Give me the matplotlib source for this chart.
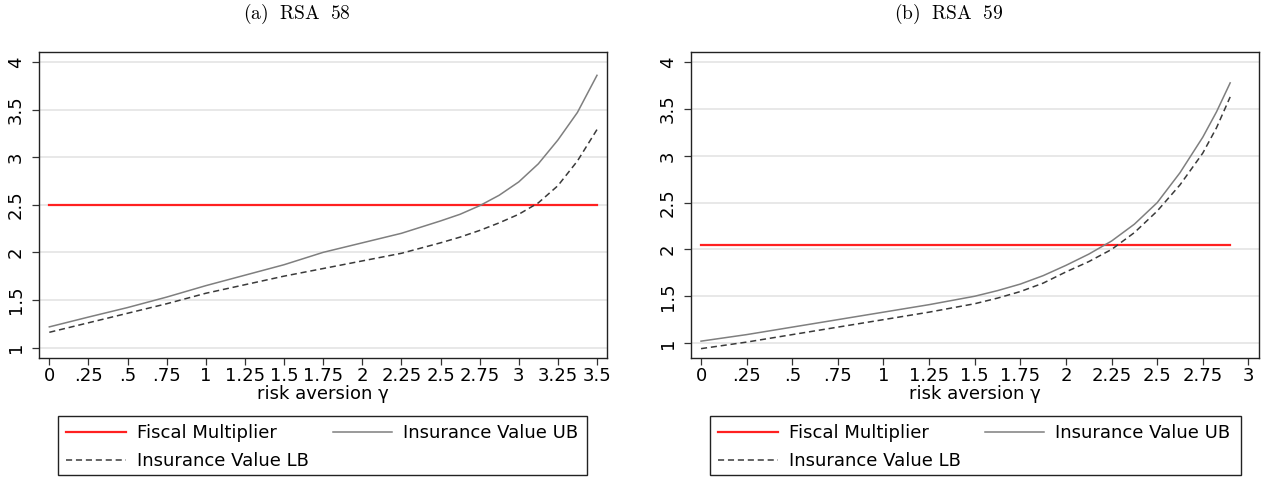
import numpy as np
import matplotlib.pyplot as plt
from matplotlib.patches import Rectangle

plt.rcParams['font.family'] = 'DejaVu Sans'
plt.rcParams['mathtext.fontset'] = 'cm'

# panel (a) RSA 58
gamma_a = [0, 0.25, 0.5, 0.75, 1.0, 1.25, 1.5, 1.75, 2.0, 2.25, 2.5, 2.625, 2.75,
           2.875, 3.0, 3.125, 3.25, 3.375, 3.5]
ub_a = [1.217, 1.32, 1.42, 1.53, 1.65, 1.76, 1.87, 2.0, 2.10, 2.20, 2.33, 2.40, 2.49,
        2.60, 2.74, 2.93, 3.18, 3.47, 3.86]
lb_a = [1.16, 1.26, 1.36, 1.46, 1.57, 1.66, 1.75, 1.83, 1.91, 1.99, 2.10, 2.16, 2.23,
        2.31, 2.40, 2.52, 2.70, 2.96, 3.29]
fm_a = 2.5
xticks_a = [0, .25, .5, .75, 1, 1.25, 1.5, 1.75, 2, 2.25, 2.5, 2.75, 3, 3.25, 3.5]
xlabels_a = ['0', '.25', '.5', '.75', '1', '1.25', '1.5', '1.75', '2', '2.25',
             '2.5', '2.75', '3', '3.25', '3.5']

# panel (b) RSA 59
gamma_b = [0, 0.25, 0.5, 0.75, 1.0, 1.25, 1.5, 1.625, 1.75, 1.875, 2.0, 2.125, 2.25,
           2.375, 2.5, 2.625, 2.75, 2.825, 2.9]
ub_b = [1.02, 1.09, 1.17, 1.25, 1.33, 1.41, 1.50, 1.56, 1.63, 1.72, 1.83, 1.95, 2.09,
        2.27, 2.50, 2.82, 3.20, 3.47, 3.78]
lb_b = [0.94, 1.01, 1.09, 1.17, 1.25, 1.33, 1.42, 1.48, 1.55, 1.64, 1.76, 1.87, 2.00,
        2.18, 2.41, 2.69, 3.03, 3.30, 3.63]
fm_b = 2.05
xticks_b = [0, .25, .5, .75, 1, 1.25, 1.5, 1.75, 2, 2.25, 2.5, 2.75, 3]
xlabels_b = ['0', '.25', '.5', '.75', '1', '1.25', '1.5', '1.75', '2', '2.25',
             '2.5', '2.75', '3']

yticks = [1, 1.5, 2, 2.5, 3, 3.5, 4]
ylabels = ['1', '1.5', '2', '2.5', '3', '3.5', '4']

fig = plt.figure(figsize=(12.68, 4.78), dpi=100)
W, H = 1268, 478

panels = [
    dict(x=gamma_a, ub=ub_a, lb=lb_a, fm=fm_a, xt=xticks_a, xl=xlabels_a,
         box=(39, 52, 607, 358), xlim=(-0.066, 3.564), ylim=(0.89, 4.105),
         title=r'$\mathrm{(a)\ \ RSA\ \ 58}$', tx=297, leg=(58, 416, 587, 475)),
    dict(x=gamma_b, ub=ub_b, lb=lb_b, fm=fm_b, xt=xticks_b, xl=xlabels_b,
         box=(691, 52, 1259, 358), xlim=(-0.055, 3.058), ylim=(0.84, 4.11),
         title=r'$\mathrm{(b)\ \ RSA\ \ 59}$', tx=949, leg=(710, 416, 1241, 475)),
]

for p in panels:
    x0, y0, x1, y1 = p['box']
    ax = fig.add_axes([x0 / W, 1 - y1 / H, (x1 - x0) / W, (y1 - y0) / H])
    ax.set_xlim(*p['xlim'])
    ax.set_ylim(*p['ylim'])
    for yv in yticks:
        ax.axhline(yv, color='#e6e6e6', lw=1.3, zorder=0)

    fm_line, = ax.plot([p['x'][0], p['x'][-1]], [p['fm'], p['fm']],
                       color='#ff2020', lw=1.6, label='Fiscal Multiplier')
    ub_line, = ax.plot(p['x'], p['ub'], color='#7f7f7f', lw=1.1,
                       label='Insurance Value UB')
    lb_line, = ax.plot(p['x'], p['lb'], color='#3a3a3a', lw=1.1,
                       ls=(0, (4, 2.5)), label='Insurance Value LB')

    ax.set_xticks(p['xt'])
    ax.set_xticklabels(p['xl'])
    ax.set_yticks(yticks)
    ax.set_yticklabels(ylabels, rotation=90, va='center')
    ax.tick_params(axis='both', labelsize=13, length=5, width=0.9, color='#333333')
    ax.tick_params(axis='x', pad=1.5)
    ax.tick_params(axis='y', pad=5)
    ax.set_xlabel('risk aversion γ', fontsize=13, labelpad=0)
    for s in ax.spines.values():
        s.set_linewidth(1.0)
        s.set_color('#222222')

    fig.text(p['tx'] / W, 1 - 14 / H, p['title'], ha='center', va='center',
             fontsize=14)

    # legend box drawn separately so the text can run over its edge as in the original
    lx0, ly0, lx1, ly1 = p['leg']
    fig.patches.append(Rectangle((lx0 / W, 1 - ly1 / H), (lx1 - lx0) / W,
                                 (ly1 - ly0) / H, transform=fig.transFigure,
                                 fill=False, edgecolor='#222222', lw=1.0))
    fig.legend(handles=[fm_line, lb_line, ub_line], ncol=2,
               loc='upper left', bbox_to_anchor=(lx0 / W, 1 - ly0 / H),
               fontsize=13, frameon=False, borderpad=0.45,
               handlelength=3.3, handletextpad=0.6, columnspacing=1.35,
               labelspacing=0.55, borderaxespad=0)

fig.savefig('out.png', dpi=100)
